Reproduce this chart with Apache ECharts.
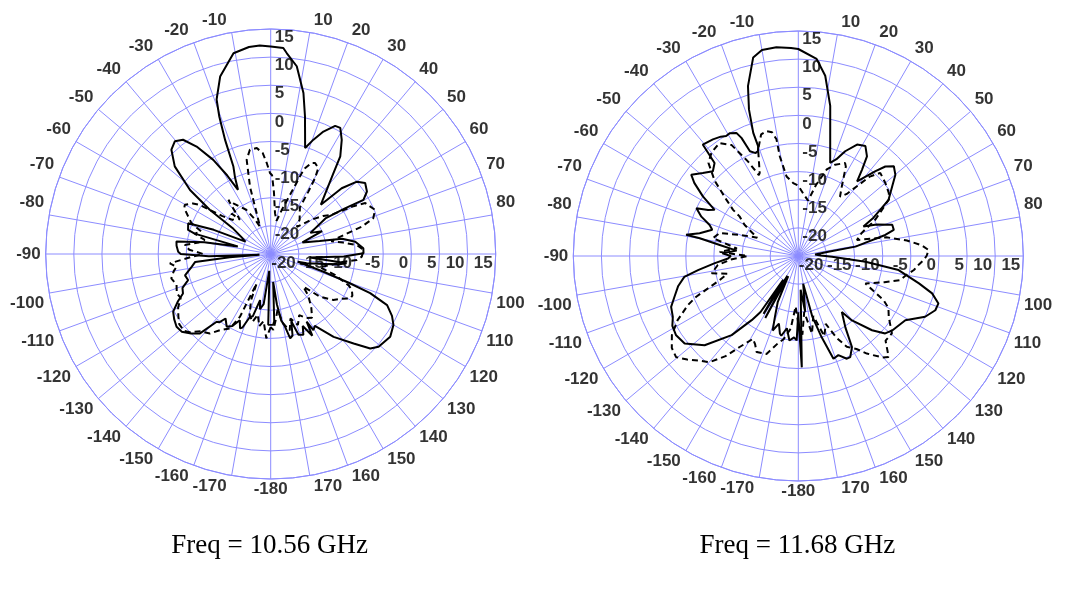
<!DOCTYPE html>
<html>
<head>
<meta charset="utf-8">
<script src="https://cdn.jsdelivr.net/npm/echarts@6/dist/echarts.min.js"></script>
<style>
  html, body { margin: 0; padding: 0; background: #ffffff; }
  #chart { width: 1065px; height: 590px; }
</style>
</head>
<body>
<div id="chart"></div>
<script>
// Radiation patterns (dB) measured at two frequencies, angle in degrees (0 = broadside, clockwise positive)

// ---- 10.56 GHz ----
const ang1056Solid = [-180,-178,-177,-175,-172,-169,-167,-164,-161.7,-159,-157.6,-155,-152,-148.8,-145,-143,-141.4,-138.3,-135,-131.1,-127.7,-124,-120.6,-117,-114.2,-111,-107.5,-104,-99.1,-96,-94.5,-93.5,-92,-90,-88.6,-85,-82.5,-80,-77,-75,-73.8,-69.6,-67,-64,-60,-56,-54,-51.6,-47.6,-43.6,-40.4,-37.5,-34.6,-31.4,-29,-27,-25,-23.1,-21.8,-20.5,-19.3,-15.9,-10.5,-6,-3,0,3.5,4.6,7.9,11.5,14,15.9,18,18.8,20.5,23.3,26.7,28.9,31.9,35.5,37.8,41.2,45.5,47.2,50,53.1,57,59.7,58.4,57,62,66,70,75,78,81.7,86.5,89.6,92,95,97,99,104.5,106,108.6,110.3,111.5,113.7,117,120,124.7,130.7,133.5,137.2,142.8,148.4,150.7,152,153,156,158,161,163,165,167,169,171,173,175,177,178,180];
const gain1056Solid = [-12.4,-12.4,-20,-22,-16,-15,-16.6,-13.5,-13.2,-11,-10.7,-12,-10.5,-9.9,-11,-9.8,-9.6,-6.1,-5,-4.0,-3.85,-4.3,-4.85,-6.5,-7.9,-8.2,-9.6,-9.3,-10.8,-11.5,-17.7,-23,-14,-9,-8.55,-8.2,-8.1,-13,-19,-11,-9.7,-9.35,-14,-20,-19,-17,-11.6,-6.7,-1.9,0.6,1.3,0.6,-1.8,-5.4,-9,-12.2,-10,-8.1,-3.2,1.1,4.1,7.8,11.3,12.0,12.1,11.9,11.7,10.8,8.7,4.2,0.2,-2.7,-5.2,-5.1,-3.3,-1.3,0.5,0.6,-1.1,-3.7,-6.8,-9.9,-12.5,-7.8,-5,-4.0,-4.6,-5.9,-9.5,-13.4,-17,-15,-19,-16,-12,-9.8,-8.5,-8.5,-12,-18,-11.4,-13,-18.4,-20,-15.1,-10,-6,-2.4,-0.8,0.2,0.85,0.3,-0.6,-3.3,-6.5,-10.0,-9.5,-11.4,-8.7,-11,-9.5,-9.8,-12.5,-10,-9.6,-12,-13,-16,-20,-13,-12.4,-12.4];

const ang1056Dashed = [-180,-177,-174,-171,-168,-165,-161,-157,-154.5,-153.9,-151.3,-146.3,-142.6,-138,-134,-131.6,-127.5,-124,-120,-116,-112.7,-108,-103.8,-100,-97.7,-95.3,-92,-90,-87,-84,-81,-78,-75,-72,-68.8,-65.6,-62,-60.2,-57,-55.3,-52,-48,-44,-42,-38.1,-36.4,-33,-29,-25,-21.4,-17.1,-14.3,-11.3,-7.5,-4.5,-2.5,-0.5,1,3,6,10,14,18,21,21.8,24,26,29,30.3,31.1,32,35,40,44,50,54,57,60,61.7,64,67.1,70.8,73.3,75,78,81,84,87.5,91.7,94,96,100,105,108,112,114,117,119.2,122,126.3,130.9,135,138,143,147,151,155,159,163,166,170,173,176,178,180];
const gain1056Dashed = [-12,-10,-13,-12,-14,-12.5,-13.5,-16,-19.2,-12.6,-9.9,-8.7,-7.2,-6.5,-5,-4.4,-4.5,-5.2,-6,-7.2,-6.9,-7.4,-6.8,-7.5,-8.1,-7.0,-11,-13,-10.5,-9.65,-12,-13,-11,-12,-9.9,-8.9,-7.6,-7.4,-8.5,-9.7,-14,-16,-15,-16.8,-12.8,-13.8,-15,-16,-18,-19.8,-12.5,-7.7,-6.1,-6,-7,-8.8,-10.6,-11,-14,-17.7,-19,-17,-14,-9.6,-8.6,-7.3,-7,-7.55,-9.4,-12,-15.2,-16,-17,-18.3,-15.5,-13.5,-12.3,-8,-5.9,-5.5,-4.85,-5.7,-8.1,-11,-14,-12,-9.6,-8.5,-8.8,-9.65,-12,-14,-16,-13,-10,-9.2,-8.7,-8.8,-10,-11.2,-13.4,-16.8,-15,-13,-11.5,-12,-13,-11.5,-13,-11,-12.5,-15,-13,-11.5,-12];

// ---- 11.68 GHz ----
const ang1168Solid = [-180,-178.9,-177,-174,-171,-168,-166.7,-164,-161,-159,-156,-153.5,-152,-151,-149,-147.5,-146,-144,-139.9,-133.6,-127.6,-123,-119,-115.9,-111.8,-108.3,-104,-100.4,-98,-95,-92,-90,-88,-85,-82,-79.8,-79.3,-77,-73,-70.7,-67.9,-64.9,-63,-61.1,-58,-54.9,-52.8,-49,-45.2,-42,-40.6,-39.6,-36.2,-33,-31,-29.1,-26.7,-25.7,-24.8,-22.5,-21,-20.1,-20.1,-18.6,-16.5,-12.8,-10,-6,-2,0,5.3,8.5,12,15.3,18.9,21.5,24.1,27.8,31.4,34.6,36.4,38.2,42.3,44.2,46.8,50.1,53.4,58.1,60.6,63,65.7,68,71.6,74.7,76.4,80.7,81.8,85,89,91.2,94.9,98,102.8,105.6,108.7,111.6,115.6,121,128.4,131.7,135.2,140.2,142.1,146.6,149.5,152.8,154.7,158,161.1,164,167,170,173,176,178.2,179.3,180];
const gain1168Solid = [-15,-10,-10.5,-9.9,-12,-10.5,-10.8,-12.5,-11,-13.4,-16,-21,-12.5,-21,-13,-20,-13,-10.9,-6.6,-2,0.5,0.9,0.6,-0.2,-0.65,-1.8,-3,-4.4,-7,-10,-12.5,-13,-11.5,-14,-10.9,-7.2,-4.7,-7,-9,-8.3,-6.4,-5,-7,-8,-5,-2.4,-1.1,-2.5,-3.6,-2.75,1.1,1.1,0.7,0.3,-0.1,0,-0.5,-1.7,-4.5,-5.2,-5,-4.2,-1.7,2.5,6.5,11.2,12.2,12.3,12.0,11.8,10.2,7.4,2.3,-3.5,-7.5,-6.5,-4.6,-2.6,-2.1,-3.5,-5.9,-8.1,-4.6,-2.8,-1.7,-2.5,-4.2,-6.1,-8.3,-10,-12.3,-10,-7.4,-7.4,-9.1,-14.7,-19.6,-22,-21,-19,-13,-7,-3.0,-0.3,1.3,1.2,0.0,-2.8,-3.7,-4.3,-6.4,-10.1,-12.4,-9.8,-6.2,-4.8,-4.8,-6,-5.7,-10,-14,-20,-15,-19,-5.2,-12,-15];

const ang1168Dashed = [-180,-177,-174,-170,-166.7,-162,-156.5,-154,-151.3,-147.2,-144,-140.1,-136.6,-133,-129.6,-126,-122,-118,-114,-111.8,-107,-104,-101.3,-96.4,-93,-90,-87,-83,-78.2,-73.8,-70,-66,-60,-56,-54.7,-52,-48,-44,-40,-35,-31,-28,-26,-24.9,-20.7,-17,-14.3,-12,-10.6,-10.5,-8.4,-4,0,5,10,14,18.2,22,26.7,28,32,35.1,38,42,44.6,50,55.2,58,62,65,70,74.7,78,81.9,85,87.4,90,91.8,94,96.9,100,103.3,107,112.3,117.4,120,124,129.6,134.1,138.2,140.4,144.9,148,151.9,155,158,162,166,170,174,177,180];
const gain1168Dashed = [-13,-16,-12,-10,-9,-6.7,-6.4,-7.5,-8.2,-5.75,-3,-0.4,0.6,2,3.2,2.8,1.5,-0.7,-3.5,-5.4,-10.4,-12,-9.3,-10.6,-13,-16,-11,-14,-9.5,-10.4,-14,-17,-14,-12.4,-10.8,-8.8,-5,-2,-1,-0.5,-2,-6,-9,-8.7,-4.8,-2.4,-2.1,-2.5,-3.9,-7,-10.7,-12,-12.5,-14,-15,-12,-8.8,-7.5,-6.5,-7,-10.4,-12.1,-11,-6,-4.25,-4.8,-5.4,-6,-8.5,-10,-13,-14.2,-9,-5.5,-3,-1.8,-2.2,-2.7,-3.5,-4.3,-5.5,-6.4,-9,-12.1,-7.9,-6.5,-5.6,-3.4,-3.4,-0.9,-1.6,-3.8,-5.5,-6.7,-9,-12,-10,-14,-11,-15,-11,-13];

// ---- axes ----
const angleTicks = [-180,-170,-160,-150,-140,-130,-120,-110,-100,-90,-80,-70,-60,-50,-40,-30,-20,-10,10,20,30,40,50,60,70,80,100,110,120,130,140,150,160,170];
const radialTicks = [-20,-15,-10,-5,0,5,10,15];
const titles = ['Freq = 10.56 GHz', 'Freq = 11.68 GHz'];

const R_MIN = -25, R_MAX = 15;
const GRID = '#8c8cff';
const TICK_FONT = {
  fontFamily: '"Liberation Sans", Arial, sans-serif', fontWeight: 'bold', fontSize: 17,
  color: '#000000', textBorderWidth: 0
};

const centers = [[270.7, 254], [798.3, 256]];
const RADIUS = 225;

function toPolar(angles, gains) {
  return angles.map((a, i) => [gains[i], a]);
}

// text anchored just outside the outer ring, on the side away from the centre
function angleLabel(a) {
  const rad = a * Math.PI / 180;
  const sx = Math.sin(rad), cy = Math.cos(rad);
  const align = Math.abs(sx) < 1e-6 ? 'center' : (sx > 0 ? 'left' : 'right');
  const vAlign = Math.abs(cy) < 1e-6 ? 'middle' : (cy > 0 ? 'bottom' : 'top');
  const ox = align === 'center' ? 0 : (sx > 0 ? 4 : -5);
  const oy = vAlign === 'middle' ? 0 : (cy > 0 ? -4 : 2);
  return Object.assign({ show: true, position: 'inside', align: align, verticalAlign: vAlign, offset: [ox, oy] }, TICK_FONT);
}

function radialLabel(align, offset) {
  return Object.assign({ show: true, position: 'inside', align: align, verticalAlign: 'top', offset: offset }, TICK_FONT);
}

const labelSeriesBase = {
  type: 'scatter', coordinateSystem: 'polar', symbol: 'circle', symbolSize: 1,
  itemStyle: { color: 'rgba(0,0,0,0)' }, clip: false, silent: true, z: 2,
  animation: false,
  label: Object.assign({ show: true, formatter: '{b}' }, TICK_FONT)
};

const polar = [], angleAxis = [], radiusAxis = [], series = [], title = [];

const patterns = [
  [ang1056Solid, gain1056Solid, ang1056Dashed, gain1056Dashed],
  [ang1168Solid, gain1168Solid, ang1168Dashed, gain1168Dashed]
];

for (let i = 0; i < 2; i++) {
  polar.push({ center: centers[i], radius: RADIUS });
  angleAxis.push({
    polarIndex: i, type: 'value', min: -180, max: 180, interval: 10,
    startAngle: 270, clockwise: true,
    axisLine: { show: true, lineStyle: { color: GRID, width: 1 } },
    axisTick: { show: false }, axisLabel: { show: false },
    splitLine: { show: true, lineStyle: { color: GRID, width: 1 } }
  });
  radiusAxis.push({
    polarIndex: i, type: 'value', min: R_MIN, max: R_MAX, interval: 5,
    axisLine: { show: false }, axisTick: { show: false }, axisLabel: { show: false },
    splitLine: { show: true, lineStyle: { color: GRID, width: 1 } }
  });

  const [aS, gS, aD, gD] = patterns[i];
  series.push({
    type: 'line', coordinateSystem: 'polar', polarIndex: i, data: toPolar(aS, gS),
    symbol: 'none', smooth: false, animation: false, z: 4,
    lineStyle: { color: '#000', width: 2, type: 'solid' }
  });
  series.push({
    type: 'line', coordinateSystem: 'polar', polarIndex: i, data: toPolar(aD, gD),
    symbol: 'none', smooth: false, animation: false, z: 4,
    lineStyle: { color: '#000', width: 2, type: [6, 4] }
  });

  // angle tick labels
  series.push(Object.assign({}, labelSeriesBase, {
    polarIndex: i,
    data: angleTicks.map(a => ({ name: String(a), value: [R_MAX, a], label: angleLabel(a) }))
  }));
  // dB labels up the 0° spoke
  series.push(Object.assign({}, labelSeriesBase, {
    polarIndex: i,
    data: radialTicks.map(v => ({ name: String(v), value: [v, 0], label: radialLabel('left', [4, 0]) }))
  }));
  // dB labels along the 90° spoke
  series.push(Object.assign({}, labelSeriesBase, {
    polarIndex: i,
    data: radialTicks.map(v => ({ name: String(v), value: [v, 90], label: radialLabel('right', [-3, 1]) }))
  }));

  title.push({
    text: titles[i], left: centers[i][0] - 6, top: 527, textAlign: 'center',
    textStyle: { fontFamily: '"Liberation Serif", "Times New Roman", serif', fontWeight: 'normal', fontSize: 27, color: '#000' }
  });
}

const chart = echarts.init(document.getElementById('chart'), null, { renderer: 'canvas' });
chart.setOption({
  backgroundColor: '#ffffff',
  animation: false,
  title: title,
  polar: polar,
  angleAxis: angleAxis,
  radiusAxis: radiusAxis,
  series: series
});
</script>
</body>
</html>
